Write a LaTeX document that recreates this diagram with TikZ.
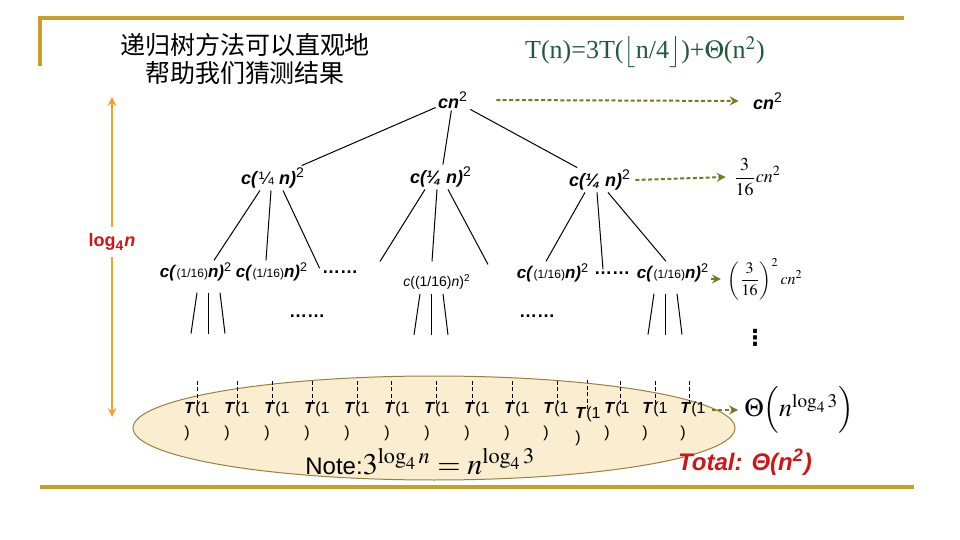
\documentclass[tikz,border=0pt]{standalone}
\usepackage{mathptmx}
\usepackage{fontspec}
\setmainfont{Liberation Serif}
\setsansfont{Liberation Sans}
\newfontfamily\cjk{Noto Sans CJK SC}
\newfontfamily\dejavu{DejaVu Sans}
\definecolor{gold}{RGB}{200,160,40}
\definecolor{amber}{RGB}{240,165,40}
\definecolor{olivegreen}{RGB}{120,120,30}
\definecolor{formgreen}{RGB}{30,90,60}
\definecolor{tanfill}{RGB}{250,237,208}
\definecolor{tanline}{RGB}{150,130,60}
\definecolor{totalred}{RGB}{210,20,20}
\newcommand{\bi}[1]{\textbf{\textit{#1}}}
\newcommand{\quarter}{\bi{c(¼ n)}\textsuperscript{2}}
\newcommand{\sixteenth}{\bi{c(}{\fontsize{6}{8}\selectfont(1/16)}\bi{n)}\textsuperscript{2}}
\begin{document}
\begin{tikzpicture}[x=0.5pt,y=-0.5pt,>=stealth,
	lbl/.style={font=\sffamily\fontsize{9}{11}\selectfont,inner sep=1pt},
	lbltwo/.style={font=\sffamily\fontsize{8.5}{11}\selectfont,inner sep=1pt},
	dots/.style={font=\sffamily\bfseries\fontsize{9}{11}\selectfont,inner sep=1pt},
	branch/.style={black,line width=0.5pt},
	sumarrow/.style={->,olivegreen,line width=1pt,dash pattern=on 2pt off 1.2pt},
	leaf/.style={font=\sffamily\fontsize{8}{12}\selectfont,align=left,inner sep=0pt,anchor=north west},
	leafdash/.style={black,line width=0.4pt,dash pattern=on 2pt off 1.2pt}]
	\useasboundingbox (0,0) rectangle (960,540);
	% khung và tiêu đề
	\draw[gold,line width=2pt] (40,66) -- (40,18) -- (904,18);
	\draw[gold,line width=2pt] (40,487) -- (914,487);
	\node[font=\cjk\fontsize{12.5}{14}\selectfont,align=center] (title) at (245,59) {递归树方法可以直观地\\帮助我们猜测结果};
	\node[formgreen,font=\fontsize{13}{15}\selectfont] (rec) at (645,52) {T(n)=3T($\bigl\lfloor$n/4$\bigr\rfloor$)+$\Theta$(n$^2$)};
	\draw[tanline,fill=tanfill,line width=0.5pt] (434,428) ellipse [x radius=301,y radius=52];
	% độ sâu
	\node[totalred,font=\sffamily\bfseries\fontsize{9}{11}\selectfont,inner sep=3pt] (depth) at (112,242) {log\textsubscript{4}\textit{n}};
	\coordinate (dtop) at (112,97);
	\coordinate (dbot) at (112,417);
	\draw[amber,line width=1pt,->] (depth) -- (dtop);
	\draw[amber,line width=1pt,->] (depth) -- (dbot);
	% cây đệ quy
	\node[lbl] (root) at (453,100) {\bi{cn}\textsuperscript{2}};
	\node[lbl] (l1a) at (273,178) {\bi{c(}¼ \bi{n)}\textsuperscript{2}};
	\node[lbl] (l1b) at (441,177) {\quarter};
	\node[lbl] (l1c) at (600,180) {\quarter};
	\draw[branch] (root) -- (l1a);
	\draw[branch] (root) -- (l1b);
	\draw[branch] (root) -- (l1c);
	\node[lbltwo] (l2a) at (196,272) {\sixteenth};
	\node[lbltwo] (l2b) at (272,272) {\sixteenth};
	\node[dots] (dotsA) at (340,272) {……};
	\node[lbl,font=\sffamily\fontsize{7}{9}\selectfont] (l2c) at (437,282) {\textit{c}((1/16)\textit{n})\textsuperscript{2}};
	\node[lbltwo] (l2d) at (553,273) {\sixteenth};
	\node[dots] (dotsB) at (612,273) {……};
	\node[lbltwo] (l2e) at (673,273) {\sixteenth};
	\draw[branch] ([shift={(-13,0)}]l1a.south) -- ([shift={(18,0)}]l2a.north);
	\draw[branch] ([shift={(-2,0)}]l1a.south) -- ([shift={(-6,0)}]l2b.north);
	\draw[branch] ([shift={(10,0)}]l1a.south) -- (dotsA.north west);
	\draw[branch] ([shift={(-16,0)}]l1b.south) -- ++(-45,72);
	\draw[branch] ([shift={(-4,0)}]l1b.south) -- ++(-5,72);
	\draw[branch] ([shift={(7,0)}]l1b.south) -- ++(40,75);
	\draw[branch] ([shift={(-15,0)}]l1c.south) -- ([shift={(-7,0)}]l2d.north);
	\draw[branch] ([shift={(-3,0)}]l1c.south) -- ([shift={(-9,0)}]dotsB.north);
	\draw[branch] ([shift={(8,0)}]l1c.south) -- ([shift={(-7,0)}]l2e.north);
	\foreach \n/\dx/\dy in {l2a/12/9,l2c/-6/2,l2e/-8/9}{
		\draw[branch] ([shift={(\dx-11,\dy)}]\n.south) -- ++(-6,41);
		\draw[branch] ([shift={(\dx,\dy)}]\n.south) -- ++(0,41);
		\draw[branch] ([shift={(\dx+12,\dy)}]\n.south) -- ++(5,41);
	}
	\node[dots] (dotsC) at (307,316) {……};
	\node[dots] (dotsD) at (537,316) {……};
	\node[font=\dejavu\bfseries\fontsize{11}{13}\selectfont,inner sep=0pt] (vdots) at (755,338) {⋮};
	% các lá T(1)
	\foreach \tx/\ty/\dx [count=\i] in {184/402/197,224/402/237,264/402/272,304/402/312,344/402/357,384/402/391,424/402/436,464/402/472,504/402/512,543/402/557,575/407/587,604/402/620,642/402/655,680/402/689}{
		\node[leaf] (t\i) at (\tx,\ty) {\bi{T}(1\\)};
		\draw[leafdash] ([shift={(\dx-\tx,2)}]t\i.north west) -- ++(0,{378-\ty});
	}
	% tổng từng mức
	\node[lbl] (sum0) at (768,101) {\bi{cn}\textsuperscript{2}};
	\node[font=\fontsize{9}{11}\selectfont,inner sep=1pt] (sum1) at (757,177) {$\displaystyle\frac{3}{16}cn^2$};
	\node[font=\fontsize{8}{10}\selectfont,inner sep=1pt] (sum2) at (765,279) {$\displaystyle\left(\frac{3}{16}\right)^{2}cn^2$};
	\node[font=\fontsize{13}{15}\selectfont,inner sep=1pt,anchor=west] (theta) at (742,410) {$\Theta\Bigl(n^{\log_4 3}\Bigr)$};
	\draw[sumarrow] ([shift={(26,0)}]root.east) -- ([shift={(-12,0)}]sum0.west);
	\draw[sumarrow] ([shift={(2,0)}]l1c.east) -- ([shift={(-5,0)}]sum1.west);
	\draw[sumarrow] (l2e.east |- sum2.west) -- ([shift={(-4,0)}]sum2.west);
	\draw[sumarrow] ([shift={(6,8)}]t14.north east) -- ([shift={(-4,0)}]theta.west);
	\node[anchor=west,inner sep=0pt] (note) at (305,462) {\sffamily\fontsize{12}{14}\selectfont Note:\rmfamily\fontsize{15}{17}\selectfont$3^{\log_4 n}=n^{\log_4 3}$};
	\node[totalred,font=\sffamily\bfseries\itshape\fontsize{12}{14}\selectfont] (total) at (745,462) {Total: Θ(n\textsuperscript{2})};
\end{tikzpicture}
\end{document}
